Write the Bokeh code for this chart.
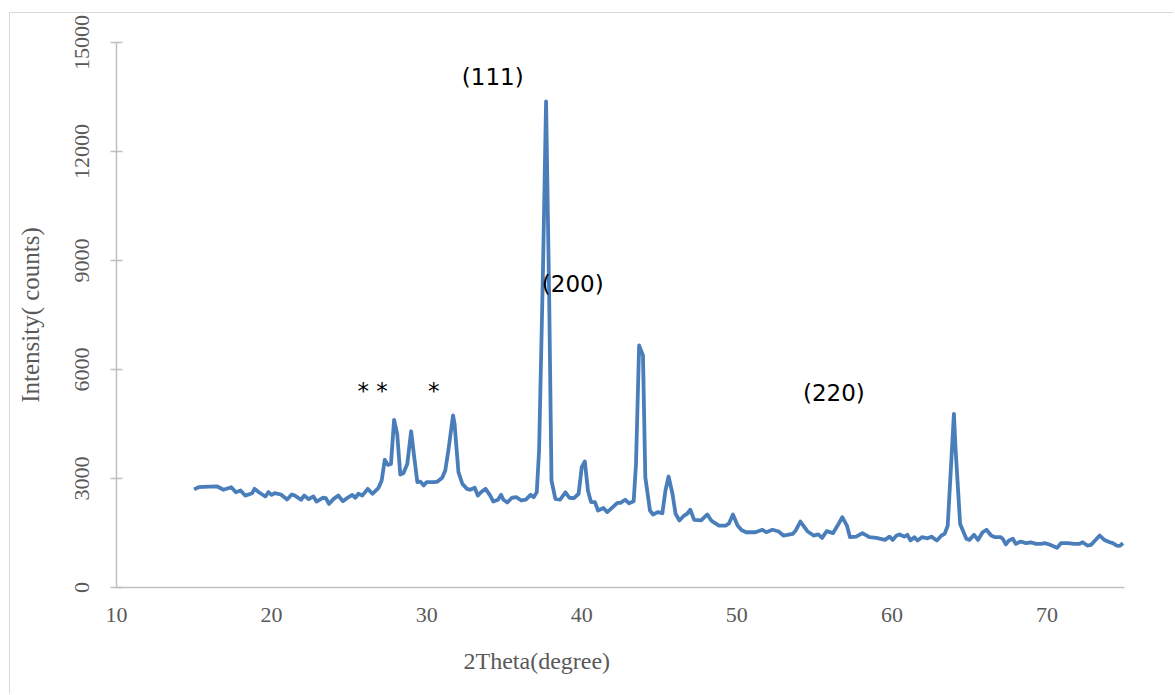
from bokeh.plotting import figure
from bokeh.models import Range1d, FixedTicker, Label, Title
from bokeh.embed import file_html
from bokeh.resources import INLINE

# ---- data ----
two_theta = [15.0, 15.3, 15.6, 16.0, 16.5, 16.9, 17.4, 17.7, 18.0, 18.3, 18.75, 18.9, 19.2, 19.6, 19.8,
             20.0, 20.2, 20.6, 21.0, 21.3, 21.5, 21.9, 22.1, 22.4, 22.7, 22.9, 23.3, 23.5, 23.7, 24.0,
             24.3, 24.6, 24.9, 25.2, 25.4, 25.6, 25.85, 26.2, 26.5, 26.9, 27.1, 27.3, 27.5, 27.7, 27.9,
             28.1, 28.3, 28.5, 28.75, 29.0, 29.2, 29.4, 29.6, 29.8, 30.0, 30.5, 30.7, 31.0, 31.2, 31.4,
             31.7, 31.8, 32.05, 32.3, 32.6, 32.8, 33.1, 33.3, 33.5, 33.8, 34.1, 34.3, 34.6, 34.8, 34.95,
             35.2, 35.5, 35.8, 36.1, 36.4, 36.7, 36.9, 37.1, 37.25, 37.5, 37.7, 37.9, 38.05, 38.3, 38.6,
             38.95, 39.2, 39.5, 39.8, 40.0, 40.2, 40.4, 40.6, 40.85, 41.05, 41.4, 41.65, 41.95, 42.3, 42.5,
             42.8, 43.05, 43.35, 43.5, 43.7, 43.95, 44.1, 44.4, 44.6, 44.9, 45.2, 45.4, 45.6, 45.85, 46.05,
             46.3, 46.6, 46.8, 47.0, 47.25, 47.7, 48.1, 48.35, 48.5, 48.85, 49.3, 49.5, 49.75, 50.05, 50.3,
             50.6, 51.2, 51.65, 51.9, 52.3, 52.7, 53.0, 53.6, 53.8, 54.1, 54.55, 54.95, 55.25, 55.5, 55.8,
             56.2, 56.5, 56.8, 57.1, 57.3, 57.7, 58.1, 58.55, 59.0, 59.55, 59.85, 60.05, 60.3, 60.5, 60.8,
             61.0, 61.2, 61.45, 61.65, 61.95, 62.3, 62.55, 62.9, 63.2, 63.4, 63.6, 64.0, 64.1, 64.4, 64.8,
             65.0, 65.3, 65.55, 65.85, 66.1, 66.4, 66.65, 67.0, 67.15, 67.35, 67.55, 67.8, 68.0, 68.3, 68.65,
             68.95, 69.3, 69.6, 69.9, 70.2, 70.45, 70.65, 70.9, 71.35, 71.75, 72.1, 72.3, 72.6, 72.85, 73.1,
             73.4, 73.7, 74.05, 74.25, 74.5, 74.7, 74.9]
intensity = [2700, 2760, 2770, 2775, 2780, 2690, 2760, 2620, 2670, 2530, 2595, 2715, 2615, 2505, 2625,
             2550, 2595, 2560, 2420, 2560, 2530, 2415, 2530, 2430, 2505, 2365, 2470, 2460, 2300, 2440,
             2530, 2375, 2470, 2550, 2470, 2580, 2530, 2715, 2580, 2745, 2945, 3515, 3375, 3400, 4615,
             4230, 3110, 3145, 3400, 4300, 3585, 2900, 2915, 2810, 2900, 2900, 2915, 3020, 3220, 3770,
             4735, 4505, 3175, 2855, 2715, 2690, 2745, 2530, 2620, 2715, 2530, 2365, 2415, 2550, 2415,
             2340, 2470, 2485, 2395, 2420, 2550, 2485, 2620, 3770, 8700, 13380, 8000, 2945, 2440, 2415,
             2620, 2470, 2460, 2580, 3310, 3470, 2670, 2350, 2350, 2120, 2190, 2075, 2190, 2330, 2330,
             2415, 2320, 2375, 3400, 6660, 6385, 3035, 2120, 2010, 2075, 2045, 2670, 3055, 2580, 2030,
             1845, 1980, 2030, 2140, 1860, 1845, 2010, 1845, 1800, 1705, 1705, 1770, 2010, 1705, 1580,
             1520, 1520, 1590, 1520, 1590, 1540, 1430, 1475, 1570, 1815, 1550, 1430, 1460, 1365, 1550,
             1495, 1705, 1935, 1705, 1385, 1400, 1495, 1385, 1365, 1310, 1400, 1310, 1430, 1460, 1400,
             1450, 1295, 1385, 1295, 1385, 1355, 1400, 1295, 1430, 1475, 1700, 4780, 3860, 1750, 1340,
             1310, 1450, 1310, 1520, 1590, 1430, 1385, 1385, 1340, 1185, 1295, 1340, 1200, 1265, 1220,
             1245, 1200, 1200, 1220, 1175, 1130, 1090, 1220, 1220, 1200, 1200, 1245, 1155, 1175, 1295,
             1430, 1310, 1245, 1220, 1155, 1145, 1220]

x_ticks = [10, 20, 30, 40, 50, 60, 70]
y_ticks = [0, 3000, 6000, 9000, 12000, 15000]
x_title = "2Theta(degree)"
y_title = "Intensity( counts)"

annot_text = ["(111)", "(200)", "(220)", "* *", "*"]
annot_x = [34.26, 39.42, 56.26, 26.52, 30.45]
annot_y = [14060, 8340, 5340, 5400, 5400]

AXIS_GRAY = "#bfbfbf"
TEXT_GRAY = "#595959"
SERIF = "Liberation Serif"

p = figure(width=1164, height=682, output_backend="svg", toolbar_location=None,
           x_range=Range1d(10, 75), y_range=Range1d(0, 15000),
           min_border_left=106, min_border_right=50, min_border_top=29, min_border_bottom=108,
           y_axis_label=y_title)
p.margin = (12, 0, 0, 9)
p.styles = {"border-left": "1px solid #d9d9d9", "border-top": "1px solid #d9d9d9"}
p.outline_line_color = None
p.grid.visible = False
p.background_fill_color = "white"
p.border_fill_color = "white"

p.line(two_theta, intensity, line_color="#4a7ebb", line_width=3.8, line_join="round")

# x axis
xa = p.xaxis[0]
xa.ticker = FixedTicker(ticks=x_ticks)
xa.axis_line_color = AXIS_GRAY
xa.axis_line_width = 1.5
xa.major_tick_line_color = None
xa.minor_tick_line_color = None
xa.major_label_text_font = SERIF
xa.major_label_text_font_size = "22px"
xa.major_label_text_color = TEXT_GRAY
xa.major_label_standoff = 14

# x title sits left of centre in the reference: a left-aligned title with an offset
p.add_layout(Title(text=x_title, align="left", offset=347, standoff=43,
                   text_font=SERIF, text_font_size="24px", text_font_style="normal",
                   text_color=TEXT_GRAY), "below")

# y axis
ya = p.yaxis[0]
ya.ticker = FixedTicker(ticks=y_ticks)
ya.axis_line_color = AXIS_GRAY
ya.axis_line_width = 1.5
ya.major_tick_line_color = AXIS_GRAY
ya.major_tick_line_width = 1.5
ya.major_tick_in = 6
ya.major_tick_out = 6
ya.minor_tick_line_color = None
ya.major_label_orientation = "parallel"
ya.major_label_text_font = SERIF
ya.major_label_text_font_size = "22px"
ya.major_label_text_color = TEXT_GRAY
ya.major_label_standoff = 22
ya.axis_label_text_font = SERIF
ya.axis_label_text_font_size = "25px"
ya.axis_label_text_font_style = "normal"
ya.axis_label_text_color = TEXT_GRAY
ya.axis_label_standoff = 28

for t, ax_, ay_ in zip(annot_text, annot_x, annot_y):
    p.add_layout(Label(x=ax_, y=ay_, text=t, text_align="center", text_baseline="middle",
                       text_font="DejaVu Sans", text_font_size="23px", text_color="black"))

open("out.html", "w").write(file_html(p, INLINE))
